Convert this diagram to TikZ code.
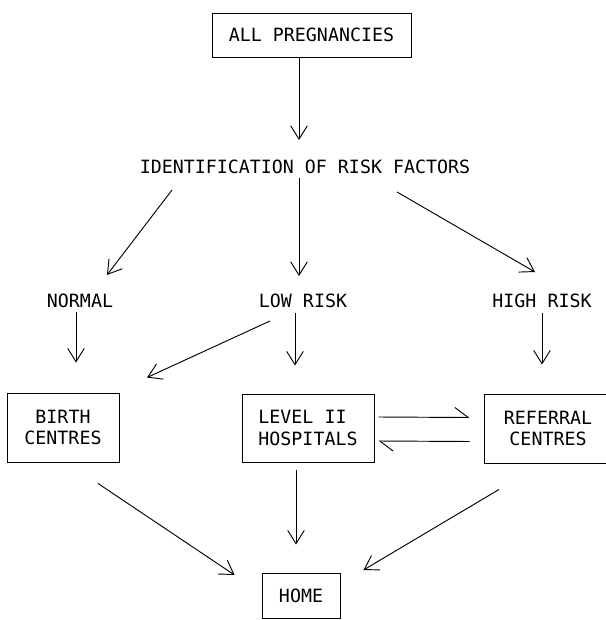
\documentclass[tikz,border=0pt]{standalone}
\usepackage{fontspec}
\usetikzlibrary{arrows.meta}
\newfontfamily\plotfont{DejaVu Sans Mono}
\tikzset{>/.tip={Straight Barb[length=4mm,width=5mm]},
  box/.style={draw, inner sep=0pt},
  harp/.style={-{Straight Barb[left,length=4mm,width=6mm]}}}

\begin{document}
\begin{tikzpicture}[x=0.03cm, y=-0.03cm, line width=0.8pt,
  every node/.style={font=\plotfont\fontsize{15.6}{18.7}\selectfont}]
\useasboundingbox (0,0) rectangle (605,620);
\node[box, minimum width=5.97cm, minimum height=1.32cm] (all) at (311.5,35) {ALL PREGNANCIES};
\node (idrisk) at (305,167) {IDENTIFICATION OF RISK FACTORS};
\node (normal) at (80,301) {NORMAL};
\node (low) at (303,301) {LOW RISK};
\node (high) at (542,301) {HIGH RISK};
\node[box, minimum width=3.36cm, minimum height=2.07cm, align=center] (birth) at (63,427.5) {BIRTH\\CENTRES};
\node[box, minimum width=3.96cm, minimum height=2.04cm, align=left] (level) at (308,428) {LEVEL II\\HOSPITALS};
\node[box, minimum width=3.84cm, minimum height=2.07cm, align=center] (referral) at (548,428.5) {REFERRAL\\CENTRES};
\node[box, minimum width=2.34cm, minimum height=1.35cm] (home) at (301,595.5) {HOME};

\draw[->] ([shift={(-12.5,0)}]all.south) to ([shift={(-6,-27)}]idrisk.center);
\draw[->] ([shift={(-133,23)}]idrisk.center) to ([shift={(27,-26)}]normal.center);
\draw[->] ([shift={(-6,11)}]idrisk.center) to ([shift={(-4,-25)}]low.center);
\draw[->] ([shift={(92,25)}]idrisk.center) to ([shift={(-7,-29)}]high.center);
\draw[->] ([shift={(-4,11)}]normal.center) to ([shift={(13,-30)}]birth.north);
\draw[->] ([shift={(-8,12)}]low.center) to ([shift={(-13,-28)}]level.north);
\draw[->] ([shift={(-33,20)}]low.center) to ([shift={(84,-15)}]birth.north);
\draw[->] ([shift={(0,12)}]high.center) to ([shift={(-6,-29)}]referral.north);
\draw[harp] ([shift={(4,-11)}]level.east) to ([shift={(-14,-11)}]referral.west);
\draw[harp] ([shift={(-14,13)}]referral.west) to ([shift={(4,13)}]level.east);
\draw[->] ([shift={(-12,8)}]level.south) to ([shift={(-5,-28)}]home.north);
\draw[->] ([shift={(35,21)}]birth.south) to ([shift={(-27,-20.5)}]home.west);
\draw[->] ([shift={(-49,26)}]referral.south) to ([shift={(23,-25.5)}]home.east);
\end{tikzpicture}
\end{document}
